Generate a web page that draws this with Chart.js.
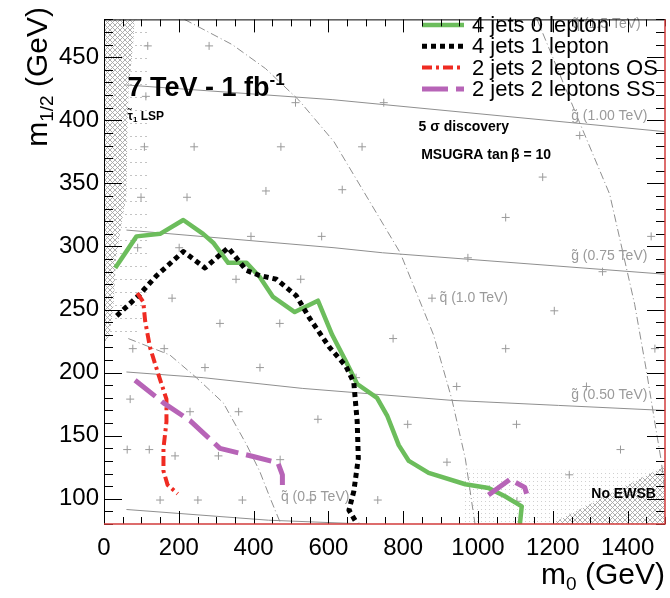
<!DOCTYPE html>
<html>
<head>
<meta charset="utf-8">
<script src="https://cdn.jsdelivr.net/npm/chart.js@4/dist/chart.umd.min.js"></script>
<style>
  html, body { margin: 0; padding: 0; background: #fff; }
  #wrap { width: 670px; height: 598px; }
</style>
</head>
<body>
<div id="wrap"><canvas id="c" width="670" height="598"></canvas></div>
<script>
// ---- axis ticks ----
const xTickValues = [0, 200, 400, 600, 800, 1000, 1200, 1400];
const yTickValues = [100, 150, 200, 250, 300, 350, 400, 450];

// ---- 5 sigma discovery contours (m0, m1/2) in GeV ----
const jets4lep0 = [[30,283],[87,308],[150,310],[212,321],[265,310],[292,303],[332,287],[381,287],[416,276],[452,260],[510,248],[572,257],[610,230],[645,210],[677,191],[730,180],[757,166],[788,142.5],[815,130],[868,120.5],[966,111.5],[1028,108.5],[1072,102],[1117,94],[1112,80]];
const jets4lep1 = [[34,245],[92,261],[141,277],[212,296],[270,283],[332,299],[381,281],[416,277],[461,274],[514,261],[550,243],[603,220],[647,205],[668,192],[677,161],[680,132],[668,106],[655,91],[677,80]];
const jets2lep2OS = [[89,263],[105,256],[110,241],[123,220],[145,199],[167,179],[167,161],[159,140],[159,122],[170,111],[197,104]];
const jets2lep2SS = [[83,194],[159,176],[230,162],[310,140],[399,133.5],[465,128.5],[477,119],[477,111]];
const jets2lep2SShigh = [[1028,103],[1088,116],[1100,113],[1125,109],[1130,104]];

// ---- iso-mass lines ----
const gluino1000 = [[60,428],[610,416.4],[1500,391]];
const gluino750 = [[60,313],[615,299],[745,295],[1500,278]];
const gluino500 = [[60,200.5],[265,196],[530,187.5],[930,178],[1215,174],[1500,170]];
const gluinoLow = [[60,91.5],[440,83],[700,80]];
const squark500 = [[65,227],[176,214],[247,196],[319,176],[381,143],[416,122],[445,100],[470,82],[472,80]];
const squark1000 = [[215,480],[343,460],[432,441],[521,416],[615,383],[792,295],[881,230],[930,179],[966,132],[992,80]];
const squark1500 = [[1158,480],[1272,398],[1352,341.5],[1419,254],[1450,202],[1472,162],[1490,130],[1500,105]];

// ---- excluded / sparse regions ----
const stauLspRegion = [[0,480],[82,480],[78,460],[66,425],[62,380],[60,340],[47,318],[32,290],[26,255],[15,230],[0,222]];
const stauSparseRegion = [[0,480],[118,480],[120,400],[118,300],[112,250],[100,236],[70,226],[0,226]];
const noEwsbRegion = [[1195,80],[1500,80],[1500,126]];
const noEwsbSparseRegion = [[965,80],[1500,80],[1500,123],[965,123]];

// ---- scan grid points ----
const scanPoints = [[117,459],[281,459],[112,419],[512,414],[748,414],[108,379],[241,379],[473,379],[690,379],[1272,388],[99,339],[222,339],[433,344],[637,345],[1173,355],[393,308],[582,308],[1463,308],[90,299],[201,299],[1074,323],[973,291],[1333,280],[877,259],[353,274],[526,274],[182,259],[310,239],[470,239],[1204,249],[77,219],[161,219],[270,204],[417,204],[674,196],[773,227],[1074,219],[1473,219],[943,189],[1290,189],[70,179],[230,169],[360,169],[572,163],[812,159],[1103,159],[62,139],[121,139],[190,134],[306,134],[471,131],[917,129],[1381,139],[1244,119],[150,99],[251,99],[370,99],[553,99],[732,99],[1104,98]];

const toXY = arr => arr.map(p => ({ x: p[0], y: p[1] }));

const FONT = "'Liberation Sans', Arial, Helvetica, sans-serif";
Chart.defaults.font.family = FONT;

function crossHatch() {
  const c = document.createElement('canvas');
  c.width = 5; c.height = 5;
  const g = c.getContext('2d');
  g.fillStyle = '#ffffff'; g.fillRect(0, 0, 5, 5);
  g.strokeStyle = '#a6a6a6'; g.lineWidth = 0.9;
  g.beginPath();
  g.moveTo(0, 0); g.lineTo(5, 5);
  g.moveTo(5, 0); g.lineTo(0, 5);
  g.stroke();
  return g.createPattern(c, 'repeat');
}
function dotGrid() {
  const c = document.createElement('canvas');
  c.width = 4; c.height = 4;
  const g = c.getContext('2d');
  g.fillStyle = '#d0d0d0'; g.fillRect(1, 1, 1, 1);
  return g.createPattern(c, 'repeat');
}
function dotRows() {
  const c = document.createElement('canvas');
  c.width = 5; c.height = 13;
  const g = c.getContext('2d');
  g.fillStyle = '#c4c4c4'; g.fillRect(0, 6, 2, 1);
  return g.createPattern(c, 'repeat');
}

const GREEN = '#6cbd5c', BLACK = '#000000', RED = '#ef2b22', PURPLE = '#b764b7', GRAY = '#8f8f8f';

const curveStyles = [
  { label: '4 jets 0 lepton', color: GREEN, width: 4.5, dash: [] },
  { label: '4 jets 1 lepton', color: BLACK, width: 5, dash: [5, 4] },
  { label: '2 jets 2 leptons OS', color: RED, width: 4, dash: [10, 4, 3, 4] },
  { label: '2 jets 2 leptons SS', color: PURPLE, width: 5, dash: [26, 8] }
];

function curve(data, s, order) {
  return { data: toXY(data), showLine: true, borderColor: s.color, borderWidth: s.width,
           borderDash: s.dash, borderCapStyle: 'butt', borderJoinStyle: 'round',
           pointRadius: 0, fill: false, order: order, tension: 0 };
}
function isoLine(data, dashed) {
  return { data: toXY(data), showLine: true, borderColor: GRAY, borderWidth: 1,
           borderDash: dashed ? [8, 3, 1, 3] : [], pointRadius: 0, fill: false, order: 20 };
}
function region(data, pattern, order) {
  return { data: toXY(data), showLine: true, borderColor: 'rgba(0,0,0,0)', borderWidth: 0,
           backgroundColor: pattern, fill: 'shape', pointRadius: 0, order: order };
}

const datasets = [
  curve(jets4lep0, curveStyles[0], 4),
  curve(jets4lep1, curveStyles[1], 3),
  curve(jets2lep2OS, curveStyles[2], 2),
  curve(jets2lep2SS, curveStyles[3], 1),
  curve(jets2lep2SShigh, curveStyles[3], 1),
  { data: toXY(scanPoints), showLine: false, pointStyle: 'cross', pointRadius: 4,
    borderColor: '#9a9a9a', borderWidth: 1, backgroundColor: '#9a9a9a', order: 10 },
  isoLine(gluino1000, false), isoLine(gluino750, false), isoLine(gluino500, false), isoLine(gluinoLow, false),
  isoLine(squark500, true), isoLine(squark1000, true), isoLine(squark1500, true),
  region(stauSparseRegion, dotRows(), 40), region(noEwsbSparseRegion, dotGrid(), 40),
  region(stauLspRegion, crossHatch(), 30), region(noEwsbRegion, crossHatch(), 30)
];

function drawRuns(ctx, parts, x, y, align) {
  let w = 0;
  parts.forEach(p => { ctx.font = p.font; p.w = ctx.measureText(p.t).width; w += p.w; });
  let cx = align === 'right' ? x - w : x;
  ctx.textAlign = 'left';
  parts.forEach(p => { ctx.font = p.font; ctx.fillText(p.t, cx, y + (p.dy || 0)); cx += p.w; });
}

// text placed in data coordinates
const grayLabels = [
  { t: 'g\u0303 (1.00 TeV)', x: 1249, y: 403 },
  { t: 'g\u0303 (0.75 TeV)', x: 1249, y: 292.5 },
  { t: 'g\u0303 (0.50 TeV)', x: 1249, y: 182.5 },
  { t: 'q\u0303 (1.0 TeV)', x: 897, y: 259 },
  { t: 'q\u0303 (1.5 TeV)', x: 1252, y: 476 },
  { t: 'q\u0303 (0.5 TeV)', x: 473, y: 101.5 }
];

const decor = {
  id: 'decor',
  afterDatasetsDraw(chart) {
    const ctx = chart.ctx, xs = chart.scales.x, ys = chart.scales.y;
    const { left, right, top, bottom } = chart.chartArea;
    ctx.save();
    // iso-mass labels
    ctx.fillStyle = '#9a9a9a';
    ctx.textBaseline = 'middle';
    ctx.textAlign = 'left';
    ctx.font = '14px ' + FONT;
    grayLabels.forEach(l => ctx.fillText(l.t, xs.getPixelForValue(l.x), ys.getPixelForValue(l.y)));

    // annotations
    ctx.fillStyle = '#000';
    ctx.textBaseline = 'alphabetic';
    drawRuns(ctx, [
      { t: '7 TeV - 1 fb', font: 'bold 27px ' + FONT },
      { t: '-1', font: 'bold 17px ' + FONT, dy: -11 }
    ], xs.getPixelForValue(63), ys.getPixelForValue(419), 'left');
    ctx.textBaseline = 'middle';
    drawRuns(ctx, [
      { t: '\u03c4\u0303', font: 'bold 12px ' + FONT },
      { t: '1', font: 'bold 8px ' + FONT, dy: 3 },
      { t: ' LSP', font: 'bold 12px ' + FONT }
    ], xs.getPixelForValue(63), ys.getPixelForValue(403), 'left');
    ctx.font = 'bold 14px ' + FONT;
    ctx.fillText('5 \u03c3 discovery', xs.getPixelForValue(841), ys.getPixelForValue(394.7));
    ctx.fillText('MSUGRA tan\u2009\u03b2 = 10', xs.getPixelForValue(848), ys.getPixelForValue(372.5));
    ctx.fillText('No EWSB', xs.getPixelForValue(1303), ys.getPixelForValue(103.3));

    // legend
    curveStyles.forEach((s, i) => {
      const yy = 25 + i * 21.3;
      ctx.beginPath();
      ctx.strokeStyle = s.color; ctx.lineWidth = s.width; ctx.lineCap = 'butt';
      ctx.setLineDash(s.dash);
      ctx.moveTo(422, yy); ctx.lineTo(464, yy); ctx.stroke();
      ctx.setLineDash([]);
      ctx.fillStyle = '#000';
      ctx.font = '22px ' + FONT;
      ctx.textBaseline = 'middle';
      ctx.fillText(s.label, 472, yy + 1);
    });

    // frame with inward ticks
    ctx.setLineDash([]);
    ctx.lineWidth = 1;
    ctx.strokeStyle = '#000';
    ctx.beginPath();
    for (let v = 80; v <= 480; v += 10) {
      const py = Math.round(ys.getPixelForValue(v)) + 0.5;
      const len = v % 50 === 0 ? 18 : 9;
      ctx.moveTo(left, py); ctx.lineTo(left + len, py);
      ctx.moveTo(right, py); ctx.lineTo(right - len, py);
    }
    for (let v = 0; v <= 1500; v += 50) {
      const px = Math.round(xs.getPixelForValue(v)) + 0.5;
      const len = v % 200 === 0 ? 13 : 7;
      ctx.moveTo(px, bottom); ctx.lineTo(px, bottom - len);
      ctx.moveTo(px, top); ctx.lineTo(px, top + len);
    }
    ctx.stroke();
    ctx.beginPath();
    ctx.moveTo(left + 0.5, bottom); ctx.lineTo(left + 0.5, top + 0.5); ctx.lineTo(right, top + 0.5);
    ctx.stroke();
    ctx.strokeStyle = '#d23c3c';
    ctx.lineWidth = 1.5;
    ctx.beginPath();
    ctx.moveTo(left, bottom); ctx.lineTo(right, bottom); ctx.lineTo(right, top);
    ctx.stroke();
    ctx.restore();
  },
  afterDraw(chart) {
    const ctx = chart.ctx;
    const { right } = chart.chartArea;
    ctx.save();
    ctx.fillStyle = '#000';
    ctx.textBaseline = 'alphabetic';
    // x axis title
    drawRuns(ctx, [
      { t: 'm', font: '30px ' + FONT },
      { t: '0', font: '19px ' + FONT, dy: 6 },
      { t: ' (GeV)', font: '30px ' + FONT }
    ], right, 584, 'right');
    // y axis title
    ctx.translate(47, 7);
    ctx.rotate(-Math.PI / 2);
    drawRuns(ctx, [
      { t: 'm', font: '30px ' + FONT },
      { t: '1/2', font: '19px ' + FONT, dy: 6 },
      { t: ' (GeV)', font: '30px ' + FONT }
    ], 0, 0, 'right');
    ctx.restore();
  }
};

new Chart(document.getElementById('c'), {
  type: 'scatter',
  data: { datasets: datasets },
  options: {
    responsive: false,
    animation: false,
    devicePixelRatio: 1,
    layout: { padding: { top: 8, right: 3, bottom: 0, left: 0 } },
    plugins: { legend: { display: false }, tooltip: { enabled: false } },
    scales: {
      x: {
        type: 'linear', min: 0, max: 1500,
        grid: { display: false, drawTicks: false }, border: { display: false },
        ticks: { font: { size: 24 }, color: '#000', padding: 10, maxRotation: 0, autoSkip: false,
                 callback: v => String(v) },
        afterBuildTicks: s => { s.ticks = xTickValues.map(v => ({ value: v })); },
        afterFit: s => { s.height = 74; }
      },
      y: {
        type: 'linear', min: 80, max: 480,
        grid: { display: false, drawTicks: false }, border: { display: false },
        ticks: { font: { size: 24 }, color: '#000', padding: 5, autoSkip: false,
                 callback: v => String(v) },
        afterBuildTicks: s => { s.ticks = yTickValues.map(v => ({ value: v })); },
        afterFit: s => { s.width = 104; }
      }
    }
  },
  plugins: [decor]
});
</script>
</body>
</html>
